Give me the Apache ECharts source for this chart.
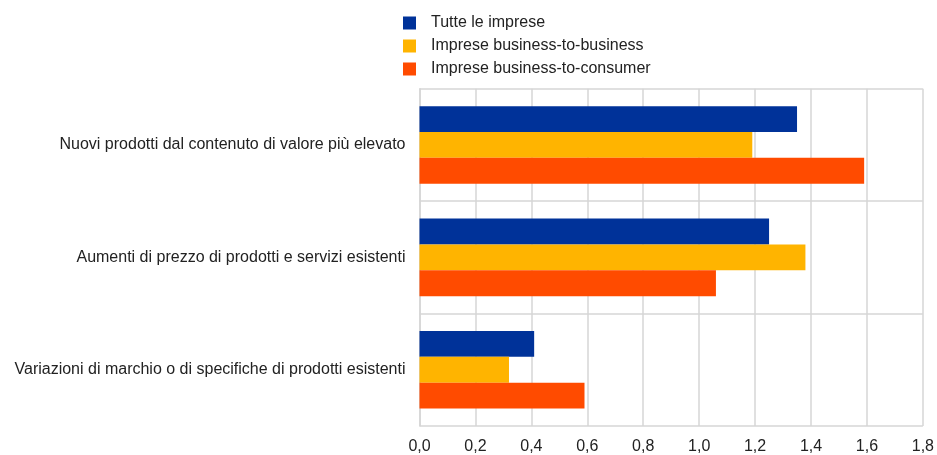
<!DOCTYPE html>
<html>
<head>
<meta charset="utf-8">
<script src="https://cdn.jsdelivr.net/npm/echarts@6/dist/echarts.min.js"></script>
<style>
  html, body { margin: 0; padding: 0; background: #fff; }
  #chart { width: 937px; height: 455px; }
</style>
</head>
<body>
<div id="chart"></div>
<script>
// Categories, top to bottom
const categories = [
  'Nuovi prodotti dal contenuto di valore più elevato',
  'Aumenti di prezzo di prodotti e servizi esistenti',
  'Variazioni di marchio o di specifiche di prodotti esistenti'
];
const seriesNames = ['Tutte le imprese', 'Imprese business-to-business', 'Imprese business-to-consumer'];
const tutte = [1.35, 1.25, 0.41];
const b2b = [1.19, 1.38, 0.32];
const b2c = [1.59, 1.06, 0.59];
const colors = ['#003299', '#FFB400', '#FF4B00'];

const font = 'Liberation Sans, Arial, sans-serif';
const chart = echarts.init(document.getElementById('chart'));

const values = [tutte, b2b, b2c];
const series = seriesNames.map((name, i) => ({
  name: name,
  type: 'bar',
  data: values[i],
  barGap: '0%',
  barCategoryGap: '31%',
  itemStyle: { color: colors[i] },
  emphasis: { disabled: true }
}));

chart.setOption({
  animation: false,
  legend: {
    data: seriesNames,
    orient: 'vertical',
    left: 398,
    top: 10,
    itemWidth: 13,
    itemHeight: 13,
    itemGap: 7,
    icon: 'rect',
    textStyle: { fontFamily: font, fontSize: 16, lineHeight: 16, color: '#222', padding: [0, 0, 0, 10] }
  },
  grid: { left: 419.5, right: 14, top: 88.7, bottom: 26, containLabel: false },
  xAxis: {
    type: 'value',
    min: 0, max: 1.8, interval: 0.2,
    axisLine: { show: false },
    axisTick: { show: false },
    axisLabel: {
      fontFamily: font, fontSize: 16, color: '#222', margin: 13,
      formatter: v => v.toFixed(1).replace('.', ',')
    },
    splitLine: { show: true, lineStyle: { color: '#d6d6d6', width: 1.5 } }
  },
  yAxis: {
    type: 'category',
    data: categories,
    inverse: true,
    axisLine: { show: true, lineStyle: { color: '#d6d6d6', width: 1.5 } },
    axisTick: { show: false },
    axisLabel: { fontFamily: font, fontSize: 16, color: '#222', margin: 14 },
    splitLine: { show: true, lineStyle: { color: '#d6d6d6', width: 1.5 } }
  },
  series: series
});
</script>
</body>
</html>
